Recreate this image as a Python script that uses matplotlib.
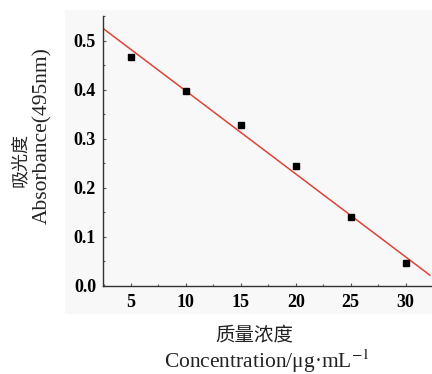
import numpy as np
import matplotlib.pyplot as plt
from matplotlib.patches import Rectangle
from matplotlib.ticker import MultipleLocator

plt.rcParams['mathtext.fontset'] = 'stix'

# 数据
conc = [5, 10, 15, 20, 25, 30]
absorb = [0.468, 0.398, 0.328, 0.245, 0.140, 0.047]
fit_x = [2.5, 32.2]

serif = ['Liberation Serif', 'DejaVu Serif']
cjk = ['Noto Sans CJK SC', 'DejaVu Sans']

fig = plt.figure(figsize=(4.32, 3.74), dpi=100)
# 浅灰底板
fig.patches.append(Rectangle((65 / 432, 1 - 314 / 374), 1 - 65 / 432, (314 - 10) / 374,
                             transform=fig.transFigure, facecolor='#f8f8f8',
                             edgecolor='none', zorder=0))

ax = fig.add_axes([103 / 432, 1 - 286 / 374, 1 - 103 / 432, (286 - 16) / 374])
ax.set_facecolor('none')
ax.set_zorder(2)

k, b = np.polyfit(conc, absorb, 1)
fx = np.array(fit_x)
ax.plot(fx, k * fx + b, color='#dc4439', lw=1.1, zorder=2)
ax.plot(conc, absorb, 's', color='black', ms=4, zorder=3)

ax.set_xlim(2.45, 32.4)
ax.set_ylim(0, 0.551)
ax.xaxis.set_major_locator(MultipleLocator(5))
ax.xaxis.set_minor_locator(MultipleLocator(2.5))
ax.yaxis.set_major_locator(MultipleLocator(0.1))
ax.yaxis.set_minor_locator(MultipleLocator(0.05))
ax.set_xticks([5, 10, 15, 20, 25, 30])
ax.set_yticks([0.0, 0.1, 0.2, 0.3, 0.4, 0.5])
ax.set_yticklabels(['0.0', '0.1', '0.2', '0.3', '0.4', '0.5'])

for s in ['top', 'right']:
    ax.spines[s].set_visible(False)
for s in ['left', 'bottom']:
    ax.spines[s].set_color('#333333')
    ax.spines[s].set_linewidth(1.0)

ax.tick_params(which='major', direction='in', length=2.5, width=0.8, color='#555555', pad=6)
ax.tick_params(which='minor', direction='in', length=1.5, width=0.8, color='#555555')
for lab in ax.get_xticklabels() + ax.get_yticklabels():
    lab.set_fontfamily(serif)
    lab.set_fontweight('bold')
    lab.set_fontsize(13)
ax.tick_params(axis='y', pad=5)

# 纵轴标题
fig.text(20 / 432, 1 - 160 / 374, '吸光度', rotation=90, ha='center', va='center',
         family=cjk, fontsize=13, color='#222222')
fig.text(43 / 432, 1 - 136 / 374, 'Absorbance(495nm)', rotation=90, ha='center', va='center',
         family=serif, fontsize=15.5, color='#222222')
# 横轴标题
fig.text(254 / 432, 1 - 335 / 374, '质量浓度', ha='center', va='center',
         family=cjk, fontsize=14, color='#222222')
fig.text(267 / 432, 1 - 361 / 374, r'Concentration/μg·mL$^{-1}$', ha='center', va='center',
         family=serif, fontsize=15.5, color='#222222')

fig.savefig('out.png', dpi=100)
